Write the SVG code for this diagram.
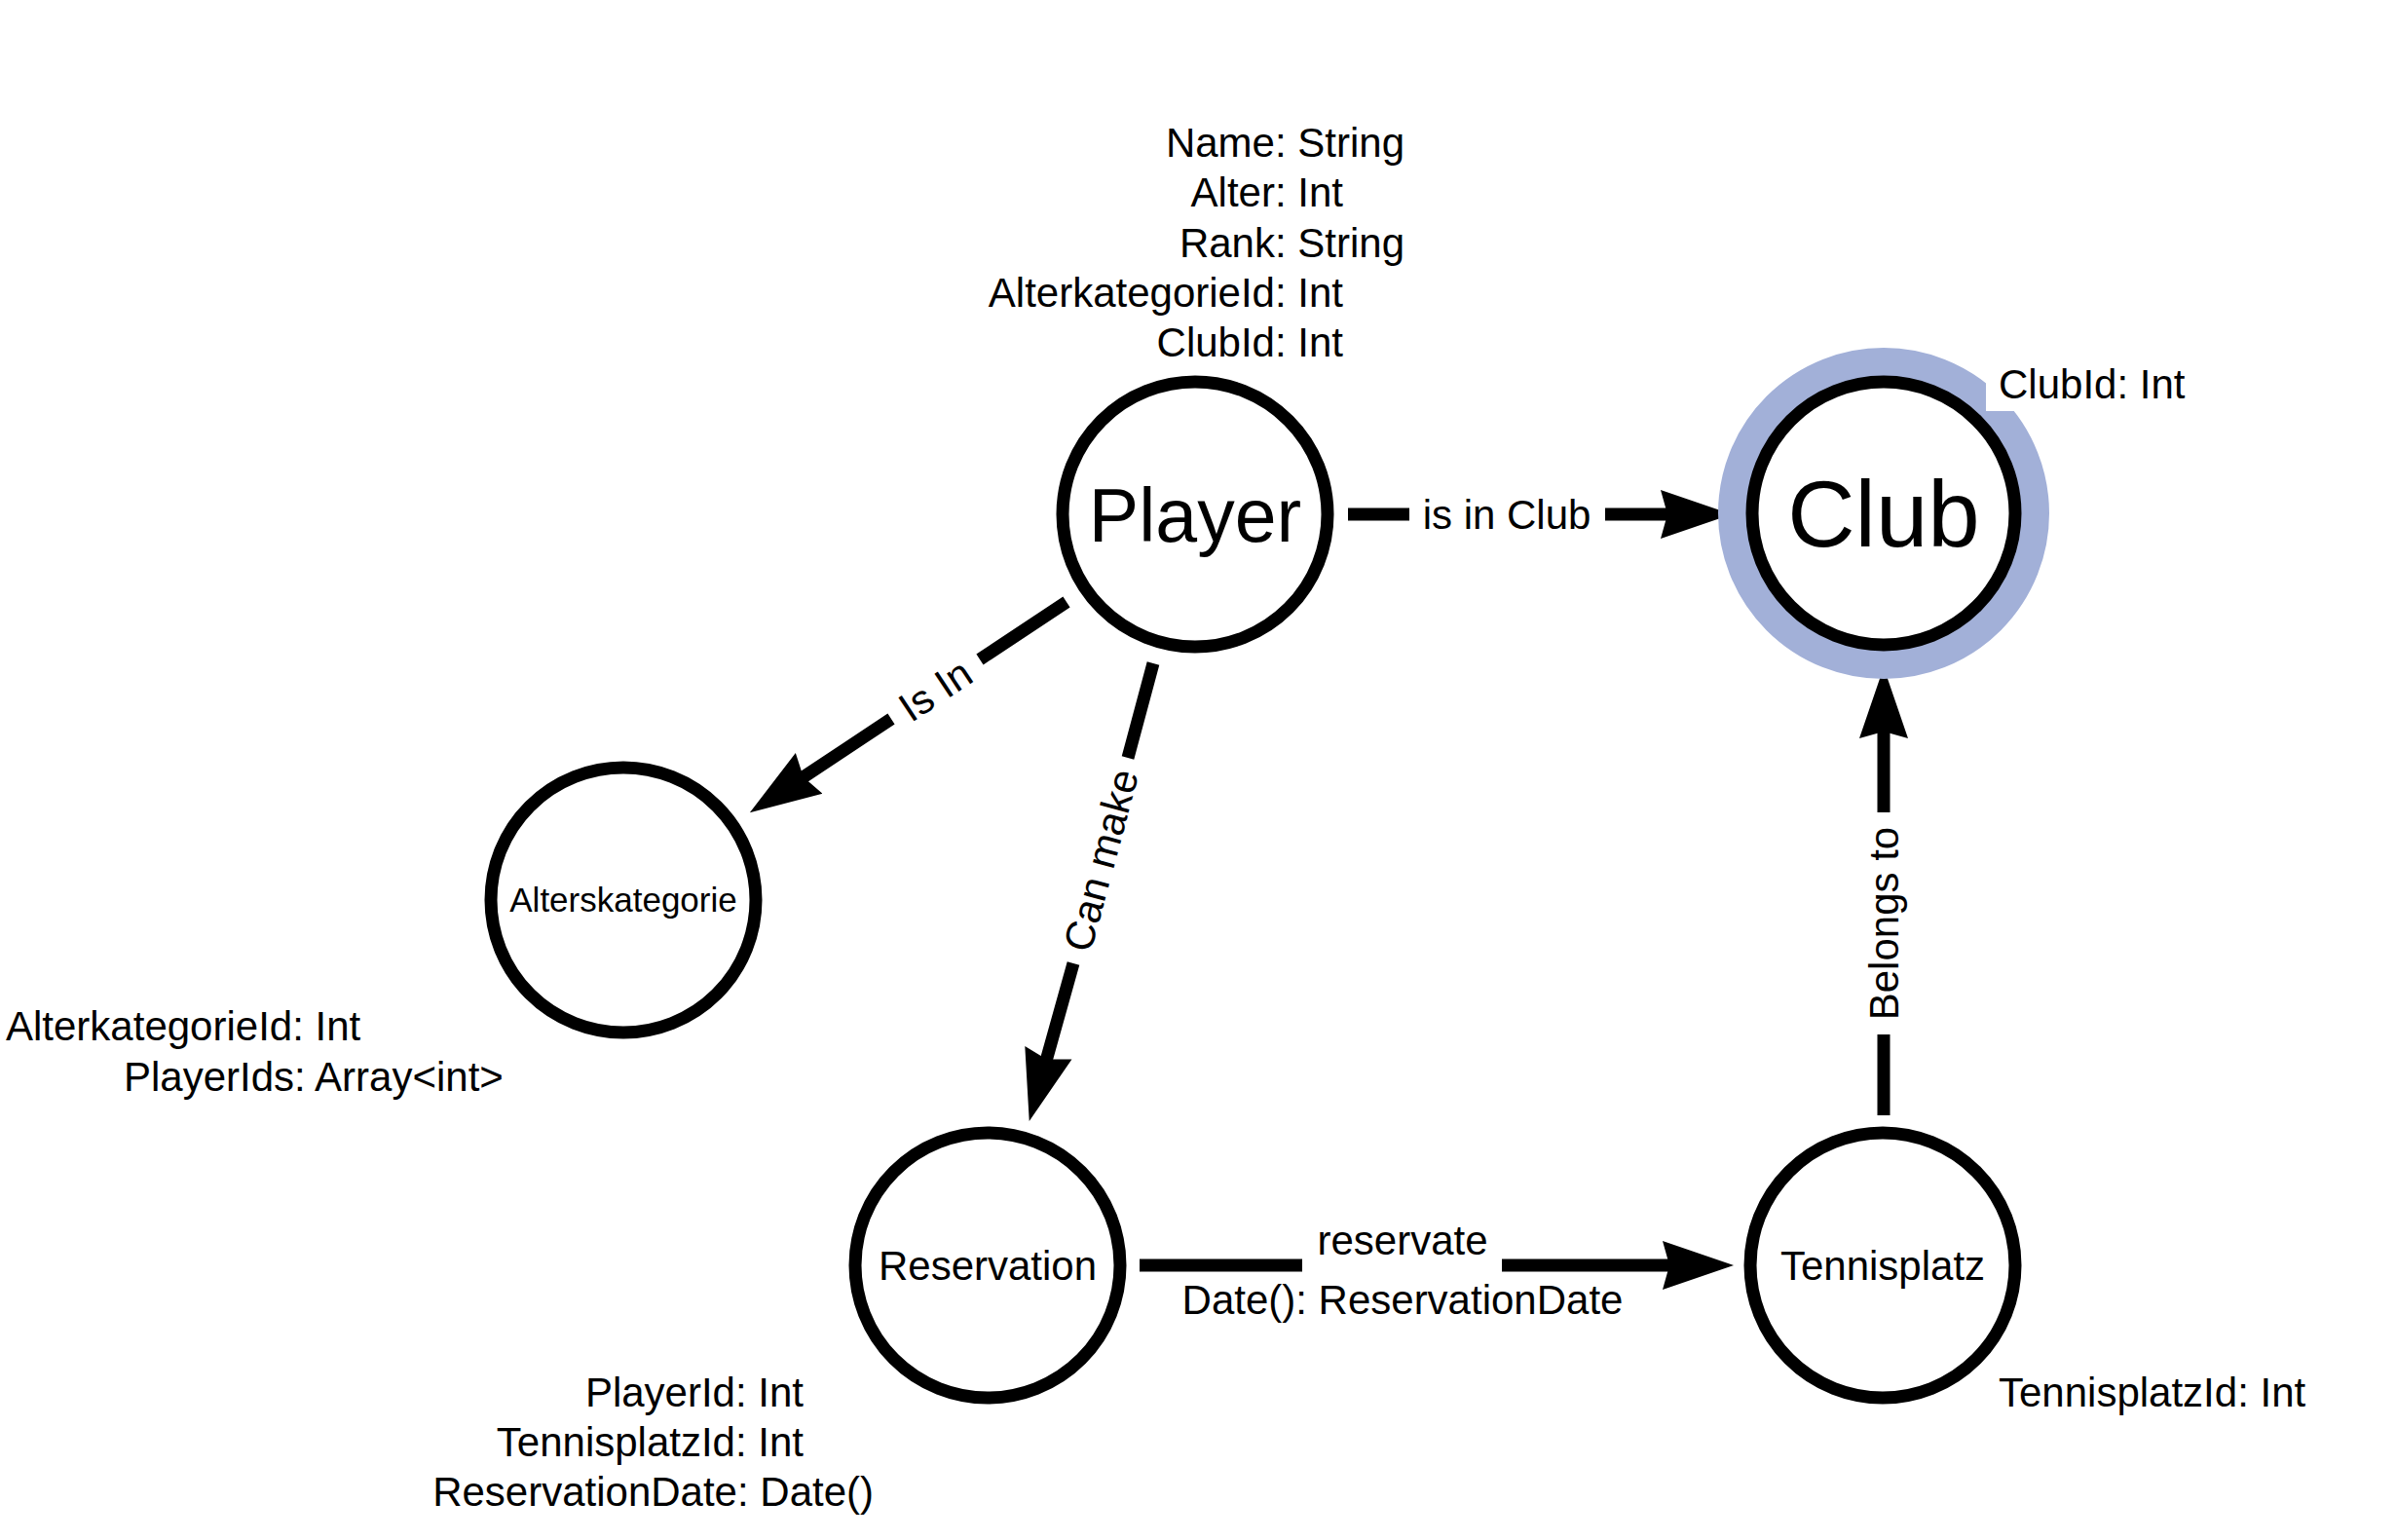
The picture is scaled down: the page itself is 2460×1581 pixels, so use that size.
<svg xmlns="http://www.w3.org/2000/svg" width="2460" height="1581" viewBox="0 0 2460 1581">
<defs>
<style>
.node{fill:#ffffff;stroke:#000000;stroke-width:13}
.edge{fill:none;stroke:#000000;stroke-width:13;marker-end:url(#arrow)}
.t{font-family:"Liberation Sans",Arial,sans-serif;fill:#000000}
.lbl{font-size:42px}
.mid{text-anchor:middle}
.end{text-anchor:end}
</style>
<marker id="arrow" markerUnits="userSpaceOnUse" viewBox="0 -26 76 52" markerWidth="76" markerHeight="52" refX="20" refY="0" orient="auto">
<path d="M0 -25 L73 0 L0 25 L7 0 Z" fill="#000000"/>
</marker>
</defs>
<rect x="0" y="0" width="2460" height="1581" fill="#ffffff"/>

<g id="connectors">
<path class="edge" d="M1384 528 H1447 M1648 528 H1725"/>
<text class="t lbl mid" x="1547" y="543">is in Club</text>

<path class="edge" d="M1095 618 L1006 677 M915 738 L814 805"/>
<text class="t lbl mid" x="960" y="708" dy="15" transform="rotate(-33.6 960 708)">Is In</text>

<path class="edge" d="M1184 681 L1158 778 M1102 989 L1071 1100"/>
<text class="t lbl mid" x="1130" y="883" dy="15" transform="rotate(-74.9 1130 883)">Can make</text>

<path class="edge" d="M1170 1299 H1337 M1542 1299 H1727"/>
<text class="t lbl mid" x="1440" y="1288">reservate</text>
<text class="t lbl mid" x="1440" y="1349">Date(): ReservationDate</text>

<path class="edge" d="M1934 1145 V1062 M1934 834 V738"/>
<text class="t lbl mid" x="1934" y="948" dy="15" transform="rotate(-90 1934 948)">Belongs to</text>
</g>

<g id="node-player">
<circle class="node" cx="1227" cy="528" r="136"/>
<text class="t mid" x="1227" y="556" font-size="77">Player</text>
<g class="t lbl end">
<text x="1442" y="161">Name: String</text>
<text x="1379" y="212">Alter: Int</text>
<text x="1442" y="264">Rank: String</text>
<text x="1379" y="315">AlterkategorieId: Int</text>
<text x="1379" y="366">ClubId: Int</text>
</g>
</g>

<g id="node-club">
<circle cx="1934" cy="527" r="155" fill="none" stroke="#a2b0d8" stroke-width="30"/>
<rect x="2039" y="360" width="220" height="62" fill="#ffffff"/>
<circle class="node" cx="1934" cy="527" r="135"/>
<text class="t mid" x="1934" y="561" font-size="96">Club</text>
<text class="t lbl" x="2052" y="409">ClubId: Int</text>
</g>

<g id="node-alterskategorie">
<circle class="node" cx="640" cy="924" r="136"/>
<text class="t mid" x="640" y="936" font-size="35">Alterskategorie</text>
<text class="t lbl" x="6" y="1068">AlterkategorieId: Int</text>
<text class="t lbl" x="127" y="1120">PlayerIds: Array&lt;int&gt;</text>
</g>

<g id="node-reservation">
<circle class="node" cx="1014" cy="1299" r="136"/>
<text class="t lbl mid" x="1014" y="1314">Reservation</text>
<g class="t lbl end">
<text x="825" y="1444">PlayerId: Int</text>
<text x="825" y="1495">TennisplatzId: Int</text>
<text x="897" y="1546">ReservationDate: Date()</text>
</g>
</g>

<g id="node-tennisplatz">
<circle class="node" cx="1933" cy="1299" r="136"/>
<text class="t lbl mid" x="1933" y="1314">Tennisplatz</text>
<text class="t lbl" x="2052" y="1444">TennisplatzId: Int</text>
</g>
</svg>
